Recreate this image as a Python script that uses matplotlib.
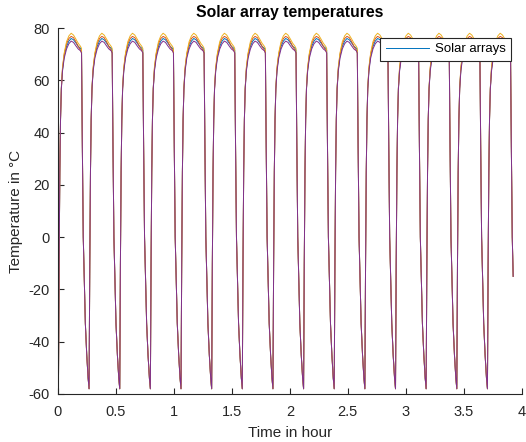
import numpy as np
import matplotlib
matplotlib.use("Agg")
import matplotlib.pyplot as plt

plt.rcParams['font.family'] = ['Liberation Sans', 'DejaVu Sans']
plt.rcParams['axes.unicode_minus'] = False

# one orbit, hours after the coldest point (end of eclipse)
orbit_hours = [0.000, 0.006, 0.012, 0.018, 0.025, 0.035, 0.050, 0.070, 0.090,
               0.110, 0.130, 0.150, 0.170, 0.190, 0.199, 0.206, 0.214, 0.222,
               0.232, 0.244, 0.256, 0.264]

# temperature per array over that orbit (degC)
array_blue   = [-58, -10, 25, 45, 57, 64, 69.5, 73.0, 75.0, 76.0, 75.5, 74.3,
                73.0, 72.3, 71.5, 35, 0, -15, -33, -45, -54, -58]
array_orange = [-58, -10, 25, 45, 57, 64.5, 70.0, 74.0, 76.0, 76.8, 76.3, 74.8,
                73.0, 71.5, 70.5, 35, 0, -15, -33, -45, -54, -58]
array_yellow = [-58, -10, 25, 45, 57, 65, 70.5, 74.8, 77.0, 78.0, 77.3, 75.8,
                74.2, 73.0, 72.2, 36, 0, -15, -33, -45, -54, -58]
array_purple = [-58, -10, 25, 45, 56.5, 63.5, 68.5, 72.0, 74.0, 75.0, 74.5, 73.2,
                72.0, 71.3, 70.5, 35, 0, -15, -33, -45, -54, -58]

first_min = 0.005     # h
orbit_period = 0.2642  # h
n_orbits = 15
t_end = 3.927

xtick_vals = [0, 0.5, 1, 1.5, 2, 2.5, 3, 3.5, 4]
xtick_labels = ['0', '0.5', '1', '1.5', '2', '2.5', '3', '3.5', '4']
ytick_vals = [-60, -40, -20, 0, 20, 40, 60, 80]

series = [
    (array_blue,   (0.000, 0.447, 0.741)),
    (array_orange, (0.850, 0.325, 0.098)),
    (array_yellow, (0.929, 0.694, 0.125)),
    (array_purple, (0.494, 0.184, 0.556)),
]


def orbit_track(profile):
    # lay the single orbit end to end over the whole run
    off = np.array(orbit_hours)
    prof = np.array(profile, dtype=float)
    t = [np.array([0.0])]
    T = [np.array([prof[0] + 2])]
    for k in range(n_orbits):
        t.append(first_min + k * orbit_period + off[:-1])
        T.append(prof[:-1])
    t = np.concatenate(t)
    T = np.concatenate(T)
    keep = t <= t_end
    return t[keep], T[keep]


fig = plt.figure(figsize=(5.26, 4.42), dpi=100)
ax = fig.add_axes([0.110, 0.1086, 0.882, 0.828])

for i, (profile, color) in enumerate(series):
    t, T = orbit_track(profile)
    ax.plot(t, T, color=color, lw=0.7,
            label='Solar arrays' if i == 0 else None)

ax.set_xlim(0, 4)
ax.set_ylim(-60, 80)
ax.set_xticks(xtick_vals)
ax.set_xticklabels(xtick_labels)
ax.set_yticks(ytick_vals)

for side in ('top', 'right'):
    ax.spines[side].set_visible(False)
for side in ('left', 'bottom'):
    ax.spines[side].set_color('0.15')
    ax.spines[side].set_linewidth(0.8)
ax.tick_params(direction='in', length=4, width=0.8, colors='0.15',
               labelsize=10.5)
ax.tick_params(axis='x', pad=8)
ax.tick_params(axis='y', pad=6)

ax.set_title('Solar array temperatures', fontsize=11.3, fontweight='bold', pad=8)
ax.set_xlabel('Time in hour', fontsize=11, color='0.15', labelpad=5)
ax.set_ylabel('Temperature in °C', fontsize=11, color='0.15', labelpad=4)

leg = ax.legend(loc='upper right', bbox_to_anchor=(0.976, 0.973),
                fancybox=False, edgecolor='0.15', framealpha=1,
                fontsize=9.5, handlelength=3.3, handletextpad=0.4,
                borderpad=0.4, borderaxespad=0)
leg.get_frame().set_linewidth(0.8)

fig.savefig('out.png', dpi=100)
